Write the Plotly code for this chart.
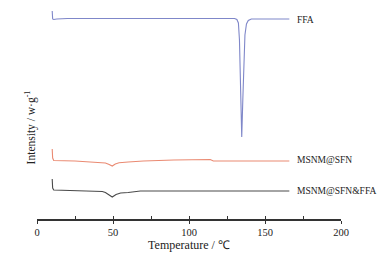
import plotly.graph_objects as go

# Temperature (°C) and stacked DSC signal (arbitrary offset units)
ffa_t = [10, 10.3, 11, 13, 20, 60, 100, 125, 130, 131.5, 132.5, 133.2, 134, 134.7, 135.4, 136, 136.8, 137.8, 139, 141, 150, 166]
ffa_y = [208, 200, 199.5, 200, 200.5, 200.5, 200.8, 201, 200.5, 199.5, 196, 179, 139, 82, 119, 159, 184, 195, 198.5, 200, 200, 200]

sfn_t = [10, 10.3, 11, 15, 25, 35, 45, 47.5, 49.5, 51.5, 54, 60, 70, 90, 114, 116, 166]
sfn_y = [70, 61, 58.5, 58.5, 58, 57, 56, 54.5, 53, 55, 56.2, 57, 58, 59, 59.5, 58, 58]

mix_t = [10, 10.3, 11, 20, 30, 40, 43, 45, 47, 49.5, 52, 55, 60, 68, 100, 166]
mix_y = [40, 31, 29, 28.5, 27.5, 27, 27.5, 26.5, 24.5, 22, 24.5, 26, 26.5, 28, 28, 28]

labels = ["FFA", "MSNM@SFN", "MSNM@SFN&FFA"]
label_y = [199, 59, 28]
colors = ["#7f87c9", "#ea8a72", "#4a4a4a"]

font = "Liberation Serif, Times New Roman, serif"

fig = go.Figure()
for t, y, c in [(ffa_t, ffa_y, colors[0]), (sfn_t, sfn_y, colors[1]), (mix_t, mix_y, colors[2])]:
    fig.add_trace(go.Scatter(x=t, y=y, mode="lines", line=dict(color=c, width=1.1), showlegend=False))

for lab, ly in zip(labels, label_y):
    fig.add_annotation(x=170.5, y=ly, text=lab, showarrow=False, xanchor="left", yanchor="middle",
                       borderpad=0, font=dict(family=font, size=9.5, color="#222"))

fig.add_annotation(xref="paper", yref="paper", x=-0.053, y=0.436, text="Intensity / w·g<sup>-1</sup>",
                   textangle=-90, showarrow=False, font=dict(family=font, size=11.5, color="#222"))

# overlay axis carrying the inward half of the major ticks
fig.add_trace(go.Scatter(x=[0, 200], y=[0, 0], xaxis="x2", mode="lines", line=dict(width=0.1, color="rgba(0,0,0,0)"),
                         showlegend=False, hoverinfo="skip"))

fig.update_layout(
    width=380, height=248,
    margin=dict(l=29, r=47, t=0, b=37),
    paper_bgcolor="white", plot_bgcolor="white",
    font=dict(family=font, color="#222"),
    xaxis=dict(range=[0, 200], tickvals=[0, 50, 100, 150, 200], ticks="outside", ticklen=3,
               tickwidth=1.2, tickcolor="#333", showline=True, linecolor="#333", linewidth=1.5,
               showgrid=False, zeroline=False, tickfont=dict(size=10.5, family=font),
               minor=dict(tickvals=[25, 75, 125, 175], ticks="inside", ticklen=3, tickcolor="#333", tickwidth=1.2),
               title=dict(text="Temperature / ℃", font=dict(size=12, family=font), standoff=3)),
    xaxis2=dict(range=[0, 200], overlaying="x", tickvals=[0, 50, 100, 150, 200], ticks="inside",
                ticklen=3, tickwidth=1.2, tickcolor="#333", showticklabels=False, showgrid=False,
                zeroline=False, side="bottom", showline=False),
    yaxis=dict(range=[0, 211], visible=False),
)

fig.write_html("out.html")
